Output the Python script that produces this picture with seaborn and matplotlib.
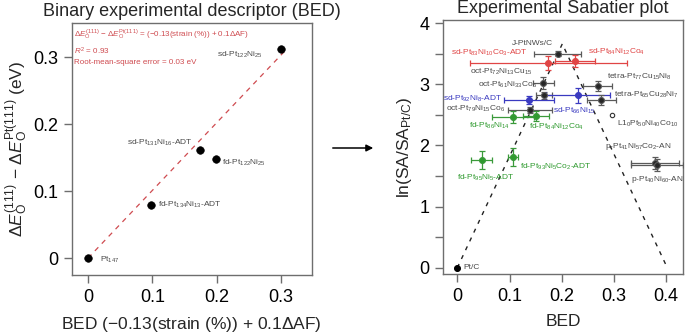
import matplotlib
matplotlib.use("Agg")
import matplotlib.pyplot as plt
import seaborn as sns
import pandas as pd

# ---- left panel: DFT binding energy vs. binary descriptor ----
left_names = ["Pt$_{147}$", "fd-Pt$_{134}$Ni$_{13}$-ADT", "sd-Pt$_{131}$Ni$_{16}$-ADT",
              "fd-Pt$_{122}$Ni$_{25}$", "sd-Pt$_{122}$Ni$_{25}$"]
left_bed = [0.0, 0.098, 0.175, 0.199, 0.300]
left_dE = [0.0, 0.080, 0.161, 0.148, 0.312]
left_lab_x = [0.019, 0.109, 0.163, 0.208, 0.272]
left_lab_y = [-0.003, 0.080, 0.172, 0.142, 0.303]
left_lab_ha = ["left", "left", "right", "left", "right"]
fit_x = [0.0, 0.305]
fit_y = [0.0, 0.308]

# ---- right panel: experimental Sabatier plot ----
right_names = ["Pt/C", "J-PtNWs/C", "sd-Pt$_{83}$Ni$_{10}$Co$_{3}$-ADT", "sd-Pt$_{84}$Ni$_{12}$Co$_{4}$",
               "oct-Pt$_{72}$Ni$_{13}$Cu$_{15}$", "oct-Pt$_{61}$Ni$_{33}$Co$_{6}$", "sd-Pt$_{92}$Ni$_{8}$-ADT",
               "sd-Pt$_{66}$Ni$_{15}$", "oct-Pt$_{79}$Ni$_{15}$Co$_{6}$", "fd-Pt$_{86}$Ni$_{14}$",
               "fd-Pt$_{84}$Ni$_{12}$Co$_{4}$", "fd-Pt$_{95}$Ni$_{5}$-ADT", "fd-Pt$_{93}$Ni$_{5}$Co$_{2}$-ADT",
               "tetra-Pt$_{77}$Cu$_{15}$Ni$_{8}$", "tetra-Pt$_{65}$Cu$_{28}$Ni$_{7}$",
               "L1$_{0}$Pt$_{50}$Ni$_{40}$Co$_{10}$", "p-Pt$_{41}$Ni$_{57}$Co$_{2}$-AN", "p-Pt$_{40}$Ni$_{60}$-AN"]
right_bed = [0.0, 0.192, 0.174, 0.225, 0.166, 0.165, 0.137, 0.231, 0.139, 0.107,
             0.150, 0.047, 0.107, 0.269, 0.276, 0.297, 0.379, 0.383]
right_bed_err = [0.0, 0.045, 0.150, 0.038, 0.016, 0.020, 0.048, 0.062, 0.042, 0.040,
                 0.025, 0.020, 0.010, 0.028, 0.028, 0.0, 0.046, 0.050]
right_ln = [0.0, 3.50, 3.35, 3.38, 2.82, 3.02, 2.74, 2.82, 2.58, 2.46,
            2.48, 1.76, 1.81, 2.97, 2.74, 2.50, 1.71, 1.68]
right_ln_err = [0.0, 0.04, 0.12, 0.10, 0.06, 0.10, 0.06, 0.12, 0.05, 0.10,
                0.08, 0.15, 0.15, 0.08, 0.08, 0.0, 0.10, 0.10]
right_group = ["Pt", "black", "red", "red", "black", "black", "blue", "blue", "black", "green",
               "green", "green", "green", "black", "black", "open", "black", "black"]
right_lab_x = [0.012, 0.183, 0.135, 0.251, 0.143, 0.152, 0.086, 0.183, 0.091, 0.101,
               0.137, 0.000, 0.120, 0.286, 0.300, 0.305, 0.282, 0.333]
right_lab_y = [0.0, 3.67, 3.51, 3.53, 3.21, 2.99, 2.76, 2.56, 2.59, 2.32,
               2.30, 1.47, 1.65, 3.12, 2.83, 2.36, 1.98, 1.45]
right_lab_ha = ["left", "right", "right", "left", "right", "right", "right", "left", "right", "right",
                "left", "left", "left", "left", "left", "left", "left", "left"]
volcano_x = [0.0, 0.201, 0.402]
volcano_y = [0.0, 3.66, 0.0]

sns.set_theme(style="ticks")
plt.rcParams["font.family"] = ["Liberation Sans", "DejaVu Sans"]
plt.rcParams["mathtext.fontset"] = "custom"
plt.rcParams["mathtext.rm"] = "Liberation Sans"
plt.rcParams["mathtext.it"] = "Liberation Sans:italic"
plt.rcParams["mathtext.bf"] = "Liberation Sans:bold"

edge = "#6e6e6e"
label_grey = "#4a4a4a"
fit_red = "#cf4b50"
palette = {"black": ("#262626", "#5a5a5a", label_grey),
           "Pt": ("#000000", "#000000", label_grey),
           "red": ("#e04545", "#e04545", "#e04545"),
           "blue": ("#3a3ac0", "#3a3ac0", "#3a3ac0"),
           "green": ("#2f9a2f", "#3a9a3a", "#2f9a2f"),
           "open": ("white", "#333333", label_grey)}

fig = plt.figure(figsize=(6.85, 3.34), dpi=100)
axL = fig.add_axes([0.105, 0.177, 0.350, 0.754])
axR = fig.add_axes([0.647, 0.180, 0.350, 0.760])

for ax in (axL, axR):
    for s in ax.spines.values():
        s.set_color(edge)
        s.set_linewidth(1.0)
    ax.tick_params(colors=edge, labelcolor="black", labelsize=13, length=6, width=1.0, pad=4)

# left panel
dfL = pd.DataFrame({"bed": left_bed, "dE": left_dE})
sns.lineplot(x=fit_x, y=fit_y, ax=axL, color=fit_red, linestyle=(0, (4, 4)), linewidth=0.9)
sns.scatterplot(data=dfL, x="bed", y="dE", ax=axL, color="black", s=30, edgecolor="black", zorder=3)
for n, x, y, ha in zip(left_names, left_lab_x, left_lab_y, left_lab_ha):
    axL.text(x, y, n, fontsize=6, color=label_grey, ha=ha, va="center")
axL.text(-0.022, 0.334, r"$\Delta E_{\mathrm{O}}^{(111)}$ $-$ $\Delta E_{\mathrm{O}}^{\mathrm{Pt(111)}}$ = ($-$0.13(strain (%)) + 0.1$\Delta$AF)",
         fontsize=5.8, color=fit_red, va="center")
axL.text(-0.022, 0.308, r"$R^{2}$ = 0.93", fontsize=5.8, color=fit_red, va="center")
axL.text(-0.022, 0.292, "Root-mean-square error = 0.03 eV", fontsize=5.8, color=fit_red, va="center")
axL.set_xlim(-0.025, 0.348)
axL.set_ylim(-0.025, 0.351)
axL.set_xticks([0, 0.1, 0.2, 0.3])
axL.set_xticklabels(["0", "0.1", "0.2", "0.3"])
axL.set_yticks([0, 0.1, 0.2, 0.3])
axL.set_yticklabels(["0", "0.1", "0.2", "0.3"])
axL.set_xlabel("BED ($-$0.13(strain (%)) + 0.1$\\Delta$AF)", fontsize=12.5, labelpad=7)
axL.set_ylabel(r"$\Delta E_{\mathrm{O}}^{(111)}$ $-$ $\Delta E_{\mathrm{O}}^{\mathrm{Pt(111)}}$ (eV)", fontsize=12.5, labelpad=2)
axL.set_title("Binary experimental descriptor (BED)", fontsize=13, pad=5)

# right panel
sns.lineplot(x=volcano_x, y=volcano_y, ax=axR, color="#222222", linestyle=(0, (3, 4)), linewidth=1.0, zorder=2)
for x, xe, y, ye, g in zip(right_bed, right_bed_err, right_ln, right_ln_err, right_group):
    fc, lc, _ = palette[g]
    if xe > 0 or ye > 0:
        axR.errorbar(x, y, xerr=xe, yerr=ye, fmt="none", ecolor=lc, elinewidth=0.9, capsize=2, capthick=0.9, zorder=3)
dfR = pd.DataFrame({"bed": right_bed, "ln": right_ln, "group": right_group})
for g, (fc, lc, _) in palette.items():
    sub = dfR[dfR["group"] == g]
    sns.scatterplot(data=sub, x="bed", y="ln", ax=axR, color=fc, edgecolor=lc if g != "Pt" else "black",
                    linewidth=0.8, s=18 if g != "open" else 10, zorder=4, legend=False)
for n, x, y, ha, g in zip(right_names, right_lab_x, right_lab_y, right_lab_ha, right_group):
    axR.text(x, y, n, fontsize=6, color=palette[g][2], ha=ha, va="center")
axR.set_xlim(-0.027, 0.432)
axR.set_ylim(-0.1, 4.05)
axR.set_xticks([0, 0.1, 0.2, 0.3, 0.4])
axR.set_xticklabels(["0", "0.1", "0.2", "0.3", "0.4"])
axR.set_yticks([0, 0.5, 1, 1.5, 2, 2.5, 3, 3.5, 4])
axR.set_yticklabels(["0", "", "1", "", "2", "", "3", "", "4"])
axR.set_xlabel("BED", fontsize=12.5, labelpad=7)
axR.set_ylabel(r"ln(SA/SA$_{\mathrm{Pt/C}}$)", fontsize=12.5, labelpad=4)
axR.set_title("Experimental Sabatier plot", fontsize=13, pad=5)

# arrow linking the two panels
fig.patches.append(matplotlib.patches.FancyArrowPatch(
    (330 / 685, 1 - 148 / 334), (376 / 685, 1 - 148 / 334), transform=fig.transFigure,
    arrowstyle="-|>", mutation_scale=10, color="black", linewidth=1.1))

fig.savefig("out.png", dpi=100)
